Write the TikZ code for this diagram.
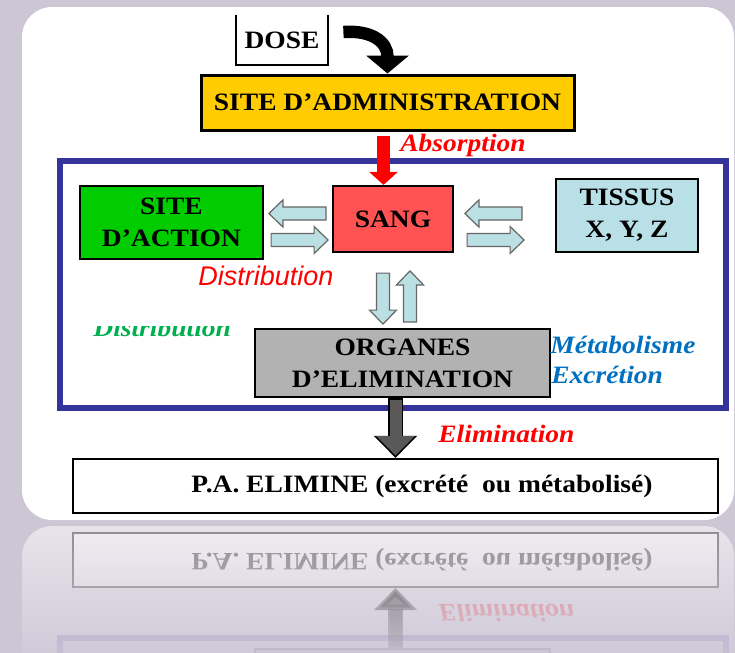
\documentclass[tikz,border=0pt]{standalone}
\usepackage{fontspec}
\setmainfont{Liberation Serif}[FakeStretch=1.1]
\newfontfamily\sanslbl{Liberation Sans}
\usepackage{tikz}
\usetikzlibrary{arrows.meta,calc,fadings}

\definecolor{bgpage}{RGB}{204,198,213}
\definecolor{adminyellow}{RGB}{255,204,0}
\definecolor{actiongreen}{RGB}{0,204,0}
\definecolor{sangred}{RGB}{255,82,82}
\definecolor{tissublue}{RGB}{185,224,230}
\definecolor{arrowblue}{RGB}{187,224,227}
\definecolor{organgrey}{RGB}{178,178,178}
\definecolor{framenavy}{RGB}{51,51,153}
\definecolor{metablue}{RGB}{0,112,192}
\definecolor{distgreen}{RGB}{0,176,80}
\definecolor{elimgrey}{RGB}{89,89,89}

\newcommand\boxfont{\bfseries\fontsize{12.5}{16}\selectfont}
\newcommand\lblfont{\bfseries\itshape\fontsize{12.5}{16}\selectfont}

\tikzfading[name=reflfade, top color=transparent!100, bottom color=transparent!0]

\tikzset{
  box/.style={draw=black, line width=1.1pt, align=center, font=\boxfont, inner sep=0pt},
  lbl/.style={font=\lblfont, anchor=base west, inner sep=0pt},
  flowline/.style={draw=black!60, line width=0.6pt, fill=arrowblue},
  pics/flow/.style={code={
    \draw[flowline] (0,-6.5) -- (#1-14,-6.5) -- (#1-14,-13.5) -- (#1,0)
      -- (#1-14,13.5) -- (#1-14,6.5) -- (0,6.5) -- cycle;}},
}

% frame, elimination organs and eliminated drug (drawn twice: picture and reflection)
\newcommand\elimsection[1]{%
  \draw[framenavy, line width=3pt] (60,161) rectangle (726,408);
  \node[box, fill=organgrey, minimum width=147.5pt, minimum height=34pt] (org) at (402.5,363) {#1};
  \node[box, fill=white, minimum width=322.5pt, minimum height=27pt] (pa) at (395.5,486)
    {\hspace*{26.5pt}P.A. ELIMINE (excrété\ \ ou métabolisé)};
  \draw[line width=7.5pt, -{Triangle[width=21pt,length=11pt]}] (org.south -| pa.north) -- (pa.north);
  \draw[line width=6pt, elimgrey, shorten >=1.2pt, shorten <=0.8pt, -{Triangle[width=18.8pt,length=9.7pt]}]
    (org.south -| pa.north) -- (pa.north);
  \node[lbl, text=red] (elim) at (438,442) {Elimination};
}

\begin{document}
\begin{tikzpicture}[x=0.5pt, y=-0.5pt]
  \useasboundingbox (0,0) rectangle (735,653);
  \fill[bgpage] (0,0) rectangle (735,653);
  \fill[white, rounded corners=15pt] (22,7) rectangle (734,520);

  % dose and administration
  \node[font=\boxfont, minimum width=46pt, minimum height=25pt, inner sep=0pt] (dose) at (282,40) {DOSE};
  \draw[line width=1pt] (dose.north west) |- (dose.south east) -- (dose.north east);
  \node[box, fill=adminyellow, line width=1.5pt, minimum width=186.5pt, minimum height=27.5pt] (admin) at (387.5,102.5) {SITE D'ADMINISTRATION};

  \elimsection{ORGANES\\D'ELIMINATION}

  % compartments
  \node[box, fill=actiongreen, minimum width=91.5pt, minimum height=36.5pt] (action) at (171.5,222.5) {SITE\\D'ACTION};
  \node[box, fill=sangred, minimum width=60pt, minimum height=33pt] (sang) at (393,219) {SANG};
  \node[box, fill=tissublue, minimum width=71pt, minimum height=36.5pt] (tissus) at (627,215.5) {TISSUS\\X, Y, Z};

  \draw[line width=6.2pt, -{Triangle[width=21pt,length=9pt]}]
    ($(dose.east)+(15,-8)$) .. controls (372,30) and (387.5,42) .. (admin.north);
  \draw[red, line width=6.5pt, -{Triangle[width=14pt,length=6.5pt]}]
    ($(admin.south)+(-4,4)$) -- ($(admin.south |- sang.north)+(-4,0)$);

  % exchanges
  \pic[rotate=180] at ($(sang.west)+(-6,-5.5)$) {flow=57};
  \pic at ($(action.east)+(7,17.5)$) {flow=57};
  \pic[rotate=180] at ($(tissus.west)+(-33,-2)$) {flow=57};
  \pic at ($(sang.east)+(13,21)$) {flow=57};
  \pic[rotate=-90] at ($(sang.south)+(-10,20)$) {flow=51};
  \pic[rotate=90] at ($(org.north)+(7.5,-6)$) {flow=51};

  % labels
  \node[lbl, text=red] (absorb) at (400,151) {Absorption};
  \node[font=\sanslbl\itshape\fontsize{13.5}{16}\selectfont, text=red, anchor=base west, inner sep=0pt] (distr) at (198,285) {Distribution};
  \begin{scope}
    \clip (80,326.5) rectangle (250,345);
    \node[lbl, text=distgreen] (distg) at (93,336) {Distribution};
  \end{scope}
  \node[lbl, text=metablue] (meta) at (550,353) {Métabolisme};
  \node[lbl, text=metablue] (excr) at (551,383) {Excrétion};

  % reflection
  \begin{scope}
    \clip (0,523) rectangle (735,653);
    \fill[white!55!bgpage, rounded corners=15pt] (22,526) rectangle (734,720);
    \begin{scope}[shift={(0,1046)}, yscale=-1, transform shape, opacity=0.4]
      \elimsection{}
    \end{scope}
    \fill[bgpage, path fading=reflfade] (0,523) rectangle (735,675);
  \end{scope}
\end{tikzpicture}
\end{document}
